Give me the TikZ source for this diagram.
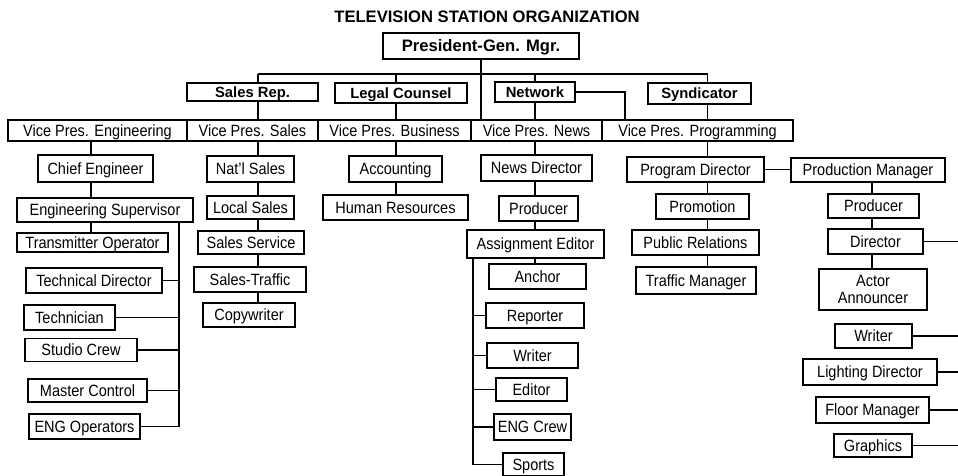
\documentclass[tikz,border=0pt]{standalone}
\usepackage{fontspec}
\setmainfont{Liberation Sans}
\newfontfamily\postfont{Liberation Sans}[FakeStretch=0.89,Ligatures=TeX]
\begin{document}
\begin{tikzpicture}[x=1pt,y=-1pt,line width=1.3pt,
    post/.style={draw,line width=1.3pt,inner sep=0pt,outer sep=0pt,text height=11.7pt,text depth=0pt,font=\postfont\fontsize{16.3}{17.7}\selectfont},
    staff/.style={post,text height=10.6pt,font=\fontsize{14.8}{17}\selectfont\bfseries},
    vp/.style={post,line width=2pt,minimum height=21}]
        \useasboundingbox (0,0) rectangle (958,476);
        %% Title and head
        \node[font=\fontsize{16.6}{20}\selectfont\bfseries] (title) at (487,17) {TELEVISION STATION ORGANIZATION};
        \node[staff,line width=2pt,text height=11.9pt,font=\fontsize{16.6}{20}\selectfont\bfseries,minimum width=196,minimum height=26] (pres) at (481,46) {President-Gen. Mgr.};
        %% Staff row
        \node[staff,minimum width=131,minimum height=18] (salesrep) at (252.5,92) {Sales Rep.};
        \node[staff,minimum width=132,minimum height=20] (legal) at (401,93) {Legal Counsel};
        \node[staff,minimum width=80,minimum height=20] (network) at (535,92) {Network};
        \node[staff,minimum width=103,minimum height=21] (syndicator) at (699.5,93.5) {Syndicator};
        %% Vice presidents
        \node[vp,minimum width=179] (vpeng) at (97.5,130.5) {Vice Pres. Engineering};
        \node[vp,minimum width=131] (vpsales) at (252.5,130.5) {Vice Pres. Sales};
        \node[vp,minimum width=153] (vpbus) at (394.5,130.5) {Vice Pres. Business};
        \node[vp,minimum width=131] (vpnews) at (536.5,130.5) {Vice Pres. News};
        \node[vp,minimum width=191] (vpprog) at (697.5,130.5) {Vice Pres. Programming};
        %% Engineering
        \node[post,minimum width=115,minimum height=27] (chief) at (95.5,168.5) {Chief Engineer};
        \node[post,minimum width=176,minimum height=24] (engsup) at (105,210) {Engineering Supervisor};
        \node[post,minimum width=151,minimum height=19] (transmit) at (92.5,242.5) {Transmitter Operator};
        \node[post,minimum width=136,minimum height=25] (techdir) at (94,280.5) {Technical Director};
        \node[post,minimum width=91,minimum height=25] (technician) at (69.5,317.5) {Technician};
        \node[post,minimum width=112,minimum height=23] (studio) at (81,350) {Studio Crew};
        \node[post,minimum width=119,minimum height=23] (master) at (87.5,390.5) {Master Control};
        \node[post,minimum width=111,minimum height=25] (engops) at (84.5,426.5) {ENG Operators};
        %% Sales
        \node[post,minimum width=87,minimum height=26] (natl) at (250.5,169) {Nat’l Sales};
        \node[post,minimum width=87,minimum height=23] (local) at (250.5,207.5) {Local Sales};
        \node[post,minimum width=106,minimum height=23] (service) at (251,242.5) {Sales Service};
        \node[post,minimum width=112,minimum height=25] (traffic) at (250,279.5) {Sales-Traffic};
        \node[post,minimum width=92,minimum height=24] (copy) at (249,315) {Copywriter};
        %% Business
        \node[post,minimum width=93,minimum height=26] (acct) at (395.5,169) {Accounting};
        \node[post,minimum width=145,minimum height=25] (hr) at (395.5,207.5) {Human Resources};
        %% News
        \node[post,minimum width=111,minimum height=26] (newsdir) at (536.5,168) {News Director};
        \node[post,minimum width=79,minimum height=25] (newsprod) at (538.5,208.5) {Producer};
        \node[post,minimum width=137,minimum height=28] (assign) at (535.5,244) {Assignment Editor};
        \node[post,minimum width=97,minimum height=25] (anchor) at (537.5,276.5) {Anchor};
        \node[post,minimum width=98,minimum height=25] (reporter) at (535,315.5) {Reporter};
        \node[post,minimum width=91,minimum height=25] (newswriter) at (532.5,355.5) {Writer};
        \node[post,minimum width=71,minimum height=23] (editor) at (531.5,389.5) {Editor};
        \node[post,minimum width=77,minimum height=26] (engcrew) at (532.5,427) {ENG Crew};
        \node[post,minimum width=61,minimum height=23] (sports) at (533.5,464.5) {Sports};
        %% Programming
        \node[post,minimum width=137,minimum height=25] (progdir) at (695.5,169.5) {Program Director};
        \node[post,minimum width=93,minimum height=25] (promo) at (702.5,206.5) {Promotion};
        \node[post,minimum width=127,minimum height=25] (pubrel) at (695.5,242.5) {Public Relations};
        \node[post,minimum width=120,minimum height=27] (trafmgr) at (696,280.5) {Traffic Manager};
        %% Production
        \node[post,minimum width=154,minimum height=24] (prodmgr) at (868,170) {Production Manager};
        \node[post,minimum width=91,minimum height=24] (prodprod) at (873.5,206) {Producer};
        \node[post,minimum width=95,minimum height=25] (director) at (875.5,241.5) {Director};
        \node[post,align=center,text height={},text depth={},minimum width=108,minimum height=41] (actor) at (873,289.5) {Actor\\Announcer};
        \node[post,minimum width=77,minimum height=24] (prodwriter) at (873.5,336) {Writer};
        \node[post,minimum width=134,minimum height=26] (lighting) at (870,372) {Lighting Director};
        \node[post,minimum width=113,minimum height=26] (floor) at (872.5,410) {Floor Manager};
        \node[post,minimum width=78,minimum height=23] (graphics) at (873,445.5) {Graphics};
        %% Line positions
        \coordinate (busW) at (258,74);
        \coordinate (busE) at (707.5,74);
        \coordinate (legalX) at (396,0);
        \coordinate (engX) at (91,0);
        \coordinate (engbus) at (179,0);
        \coordinate (newsX) at (535,0);
        \coordinate (newsbus) at (473,0);
        \coordinate (prodX) at (872,0);
        \coordinate (netdrop) at (625,120);
        \coordinate (edge) at (958,0);
        %% Top lines
        \draw (pres.south) -- (pres.south |- vpnews.north);
        \draw (busW) -- (busE);
        \draw (busW) -- (busW |- salesrep.north);
        \draw (busW |- salesrep.south) -- (busW |- vpsales.north);
        \draw (legalX |- busW) -- (legalX |- legal.north);
        \draw (legalX |- legal.south) -- (legalX |- vpbus.north);
        \draw (network.north) -- (network.north |- busW);
        \draw (network.south) -- (network.south |- vpnews.north);
        \draw (network.east) -| (netdrop);
        \draw (busE) -- (busE |- syndicator.north);
        \draw (busE |- syndicator.south) -- (busE |- vpprog.north);
        %% Engineering lines
        \draw (engX |- vpeng.south) -- (engX |- chief.north);
        \draw (engX |- chief.south) -- (engX |- engsup.north);
        \draw (engX |- engsup.south) -- (engX |- transmit.north);
        \draw (engbus |- engsup.south) -- (engbus |- engops.east);
        \foreach \n in {techdir,technician,studio,master,engops}
            \draw (\n.east) -- (\n.east -| engbus);
        %% Sales and business lines
        \draw (busW |- vpsales.south) -- (busW |- natl.north);
        \draw (busW |- natl.south) -- (busW |- local.north);
        \draw (busW |- local.south) -- (busW |- service.north);
        \draw (busW |- service.south) -- (busW |- traffic.north);
        \draw (busW |- traffic.south) -- (busW |- copy.north);
        \draw (legalX |- vpbus.south) -- (legalX |- acct.north);
        \draw (legalX |- acct.south) -- (legalX |- hr.north);
        %% News lines
        \draw (newsX |- vpnews.south) -- (newsX |- newsdir.north);
        \draw (newsX |- newsdir.south) -- (newsX |- newsprod.north);
        \draw (newsX |- newsprod.south) -- (newsX |- assign.north);
        \draw (newsX |- assign.south) -- (newsX |- anchor.north);
        \draw (newsbus |- assign.south) -- (newsbus |- sports.west);
        \foreach \n in {reporter,newswriter,editor,engcrew,sports}
            \draw (\n.west) -- (\n.west -| newsbus);
        %% Programming lines
        \draw (busE |- vpprog.south) -- (busE |- progdir.north);
        \draw (busE |- progdir.south) -- (busE |- promo.north);
        \draw (busE |- promo.south) -- (busE |- pubrel.north);
        \draw (busE |- pubrel.south) -- (busE |- trafmgr.north);
        \draw (progdir.east) -- (progdir.east -| prodmgr.west);
        \draw (prodX |- prodmgr.south) -- (prodX |- prodprod.north);
        \draw (prodX |- prodprod.south) -- (prodX |- director.north);
        \draw (prodX |- director.south) -- (prodX |- actor.north);
        \foreach \n in {director,prodwriter,lighting,floor,graphics}
            \draw (\n.east) -- (\n.east -| edge);
\end{tikzpicture}
\end{document}
